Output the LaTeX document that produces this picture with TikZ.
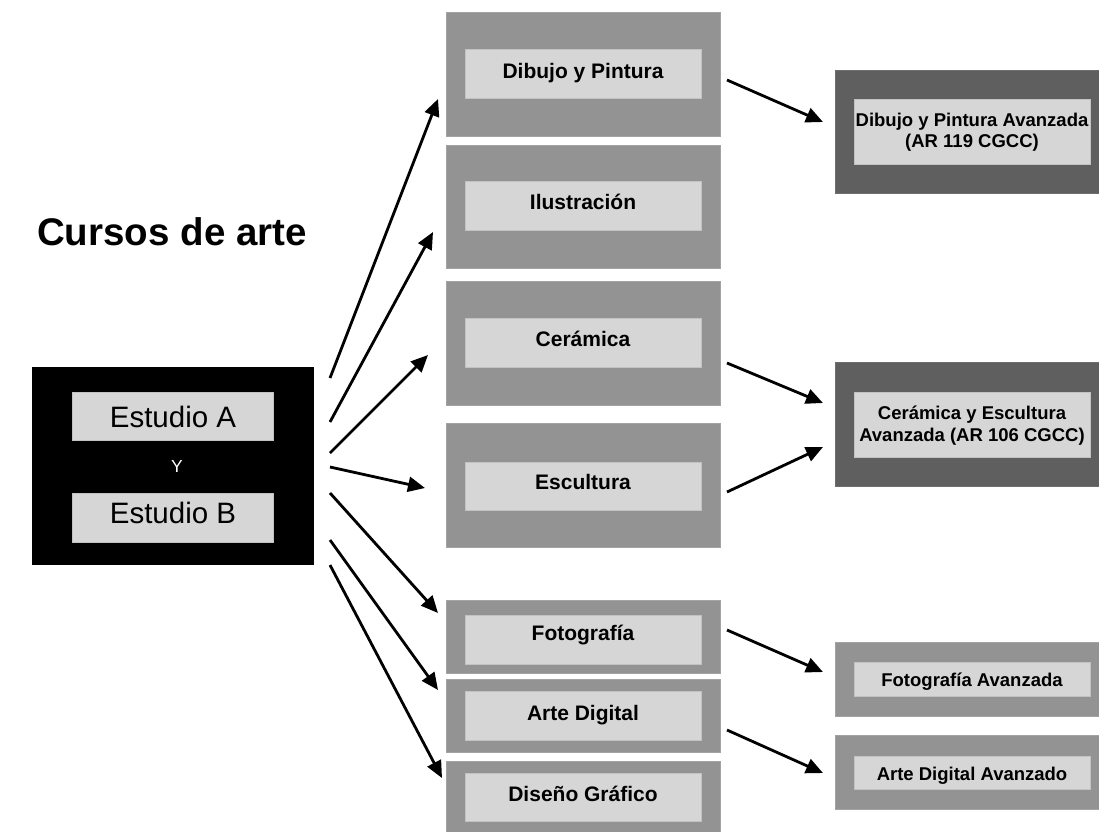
\documentclass[tikz,border=0pt]{standalone}
\usepackage{fontspec}
\setmainfont{Liberation Sans}
\usetikzlibrary{arrows.meta,fit}
\definecolor{midgray}{HTML}{939393}
\definecolor{midedge}{HTML}{A3A3A3}
\definecolor{lightbox}{HTML}{D6D6D6}
\definecolor{lightedge}{HTML}{C2C2C2}
\definecolor{darkbox}{HTML}{5F5F5F}
\definecolor{darkedge}{HTML}{6E6E6E}
\begin{document}
\begin{tikzpicture}[x=1pt,y=-1pt,
  outerbox/.style={inner sep=0pt, outer sep=0pt, fill=midgray, draw=midedge, line width=0.8pt},
  darkouter/.style={inner sep=0pt, outer sep=0pt, fill=darkbox, draw=darkedge, line width=0.8pt},
  blackbox/.style={inner sep=0pt, outer sep=0pt, fill=black, draw=none},
  innerbox/.style={inner sep=0pt, outer sep=0pt, fill=lightbox, draw=lightedge, line width=0.8pt},
  midlbl/.style={anchor=base, inner sep=0pt, font=\fontsize{21}{25}\selectfont\bfseries},
  rightlbl/.style={anchor=base, inner sep=0pt, font=\fontsize{18.5}{21}\selectfont\bfseries},
  studlbl/.style={anchor=base, inner sep=0pt, font=\fontsize{29.5}{34}\selectfont},
  conn/.style={line width=2.8pt, -{Triangle[length=17pt,width=15pt]}}
]
\useasboundingbox (0,0) rectangle (1099,831);

% title
\node[anchor=base west, inner sep=0pt, font=\fontsize{38.5}{44}\selectfont\bfseries] (title) at (37,245) {Cursos de arte};

% source block
\node[blackbox, fit={(32,367) (314,565)}] (src) {};
\node[innerbox, fit={(72,392) (273,440)}] (srcA) {};
\node[innerbox, fit={(72,493) (273,542)}] (srcB) {};
\node[studlbl] (tA) at (173,427) {Estudio A};
\node[studlbl] (tB) at (173,523) {Estudio B};
\node[anchor=base, inner sep=0pt, text=white, font=\fontsize{17.5}{20}\selectfont] (tY) at (177,472) {Y};

% middle column
\node[outerbox, fit={(446,12) (720,136)}] (dib) {};
\node[innerbox, fit={(465,49) (701,98)}] (dibI) {};
\node[midlbl] at (583,78) {Dibujo y Pintura};

\node[outerbox, fit={(446,145) (720,268)}] (ilu) {};
\node[innerbox, fit={(465,181) (701,230)}] (iluI) {};
\node[midlbl] at (583,209) {Ilustración};

\node[outerbox, fit={(446,281) (720,405)}] (cer) {};
\node[innerbox, fit={(465,318) (701,367)}] (cerI) {};
\node[midlbl] at (583,346) {Cerámica};

\node[outerbox, fit={(446,423) (720,547)}] (esc) {};
\node[innerbox, fit={(465,462) (701,510)}] (escI) {};
\node[midlbl] at (583,489) {Escultura};

\node[outerbox, fit={(446,600) (720,673)}] (fot) {};
\node[innerbox, fit={(465,615) (701,664)}] (fotI) {};
\node[midlbl] at (583,640) {Fotografía};

\node[outerbox, fit={(446,679) (720,752)}] (art) {};
\node[innerbox, fit={(465,691) (701,740)}] (artI) {};
\node[midlbl] at (583,720) {Arte Digital};

\node[outerbox, fit={(446,761) (720,836)}] (dis) {};
\node[innerbox, fit={(465,773) (701,821)}] (disI) {};
\node[midlbl] at (583,801) {Diseño Gráfico};

% right column
\node[darkouter, fit={(835,70) (1104,193)}] (dibA) {};
\node[innerbox, fit={(854,99) (1090,164)}] (dibAI) {};
\node[rightlbl] at (972,126) {Dibujo y Pintura Avanzada};
\node[rightlbl] at (972,147) {(AR 119 CGCC)};

\node[darkouter, fit={(835,362) (1104,486)}] (cerA) {};
\node[innerbox, fit={(854,392) (1090,457)}] (cerAI) {};
\node[rightlbl] at (972,419) {Cerámica y Escultura};
\node[rightlbl] at (972,441) {Avanzada (AR 106 CGCC)};

\node[outerbox, fit={(835,642) (1104,716)}] (fotA) {};
\node[innerbox, fit={(854,662) (1090,696)}] (fotAI) {};
\node[rightlbl] at (972,686) {Fotografía Avanzada};

\node[outerbox, fit={(835,735) (1104,809)}] (artA) {};
\node[innerbox, fit={(854,756) (1090,789)}] (artAI) {};
\node[rightlbl] at (972,780) {Arte Digital Avanzado};

% connector end points
\coordinate (s1) at (330,378); \coordinate (e1) at (438,99);
\coordinate (s2) at (330,422); \coordinate (e2) at (433,232);
\coordinate (s3) at (330,453); \coordinate (e3) at (428,355);
\coordinate (s4) at (330,467); \coordinate (e4) at (425,488);
\coordinate (s5) at (330,493); \coordinate (e5) at (438,613);
\coordinate (s6) at (330,540); \coordinate (e6) at (438,690);
\coordinate (s7) at (330,565); \coordinate (e7) at (442,778);
\coordinate (r1s) at (727,80);  \coordinate (r1e) at (823,122);
\coordinate (r2s) at (727,363); \coordinate (r2e) at (823,403);
\coordinate (r3s) at (727,492); \coordinate (r3e) at (823,447);
\coordinate (r4s) at (727,630); \coordinate (r4e) at (823,672);
\coordinate (r5s) at (727,730); \coordinate (r5e) at (823,773);

\draw[conn] (s1) -- (e1);
\draw[conn] (s2) -- (e2);
\draw[conn] (s3) -- (e3);
\draw[conn] (s4) -- (e4);
\draw[conn] (s5) -- (e5);
\draw[conn] (s6) -- (e6);
\draw[conn] (s7) -- (e7);
\draw[conn] (r1s) -- (r1e);
\draw[conn] (r2s) -- (r2e);
\draw[conn] (r3s) -- (r3e);
\draw[conn] (r4s) -- (r4e);
\draw[conn] (r5s) -- (r5e);
\end{tikzpicture}
\end{document}
